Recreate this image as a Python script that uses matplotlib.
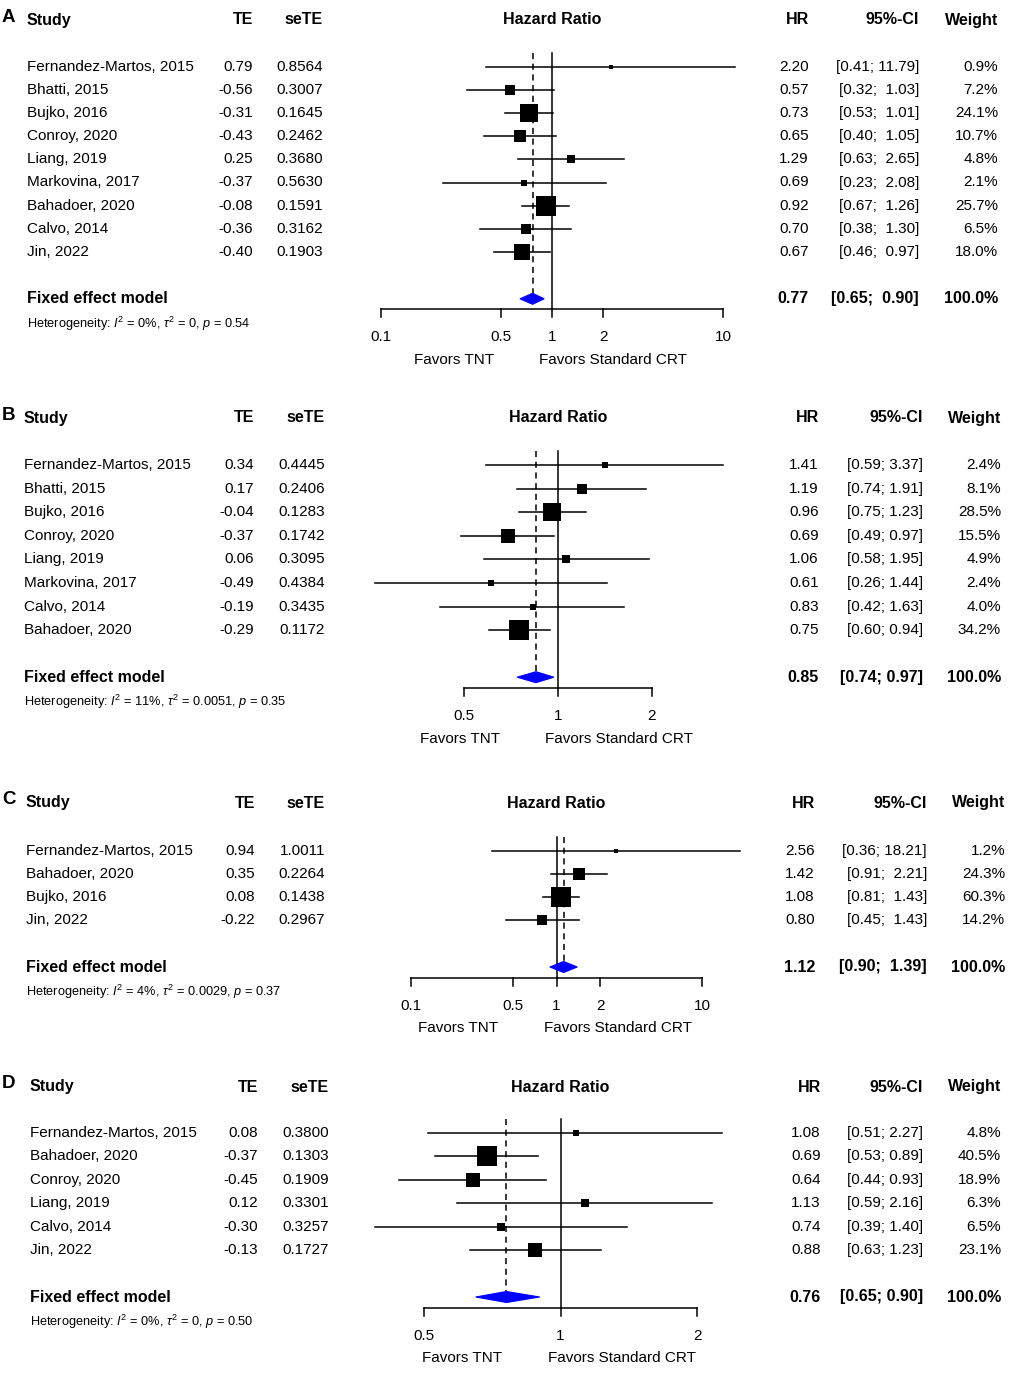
import numpy as np
import matplotlib
matplotlib.use("Agg")
import matplotlib.pyplot as plt
from matplotlib.patches import Polygon

plt.rcParams["font.family"] = ["Liberation Sans", "DejaVu Sans"]
plt.rcParams["mathtext.fontset"] = "custom"
plt.rcParams["mathtext.rm"] = "Liberation Sans"
plt.rcParams["mathtext.it"] = "Liberation Sans:italic"

W, H = 1010, 1377

# ---- data, panel A ----
a_study = ["Fernandez-Martos, 2015", "Bhatti, 2015", "Bujko, 2016", "Conroy, 2020",
           "Liang, 2019", "Markovina, 2017", "Bahadoer, 2020", "Calvo, 2014", "Jin, 2022"]
a_te = [0.79, -0.56, -0.31, -0.43, 0.25, -0.37, -0.08, -0.36, -0.40]
a_se = [0.8564, 0.3007, 0.1645, 0.2462, 0.3680, 0.5630, 0.1591, 0.3162, 0.1903]
a_hr = [2.20, 0.57, 0.73, 0.65, 1.29, 0.69, 0.92, 0.70, 0.67]
a_lo = [0.41, 0.32, 0.53, 0.40, 0.63, 0.23, 0.67, 0.38, 0.46]
a_up = [11.79, 1.03, 1.01, 1.05, 2.65, 2.08, 1.26, 1.30, 0.97]
a_w = [0.9, 7.2, 24.1, 10.7, 4.8, 2.1, 25.7, 6.5, 18.0]
a_pool = [0.77, 0.65, 0.90]
a_het = r"Heterogeneity: $I^2$ = 0%, $\tau^2$ = 0, $p$ = 0.54"

# ---- data, panel B ----
b_study = ["Fernandez-Martos, 2015", "Bhatti, 2015", "Bujko, 2016", "Conroy, 2020",
           "Liang, 2019", "Markovina, 2017", "Calvo, 2014", "Bahadoer, 2020"]
b_te = [0.34, 0.17, -0.04, -0.37, 0.06, -0.49, -0.19, -0.29]
b_se = [0.4445, 0.2406, 0.1283, 0.1742, 0.3095, 0.4384, 0.3435, 0.1172]
b_hr = [1.41, 1.19, 0.96, 0.69, 1.06, 0.61, 0.83, 0.75]
b_lo = [0.59, 0.74, 0.75, 0.49, 0.58, 0.26, 0.42, 0.60]
b_up = [3.37, 1.91, 1.23, 0.97, 1.95, 1.44, 1.63, 0.94]
b_w = [2.4, 8.1, 28.5, 15.5, 4.9, 2.4, 4.0, 34.2]
b_pool = [0.85, 0.74, 0.97]
b_het = r"Heterogeneity: $I^2$ = 11%, $\tau^2$ = 0.0051, $p$ = 0.35"

# ---- data, panel C ----
c_study = ["Fernandez-Martos, 2015", "Bahadoer, 2020", "Bujko, 2016", "Jin, 2022"]
c_te = [0.94, 0.35, 0.08, -0.22]
c_se = [1.0011, 0.2264, 0.1438, 0.2967]
c_hr = [2.56, 1.42, 1.08, 0.80]
c_lo = [0.36, 0.91, 0.81, 0.45]
c_up = [18.21, 2.21, 1.43, 1.43]
c_w = [1.2, 24.3, 60.3, 14.2]
c_pool = [1.12, 0.90, 1.39]
c_het = r"Heterogeneity: $I^2$ = 4%, $\tau^2$ = 0.0029, $p$ = 0.37"

# ---- data, panel D ----
d_study = ["Fernandez-Martos, 2015", "Bahadoer, 2020", "Conroy, 2020", "Liang, 2019",
           "Calvo, 2014", "Jin, 2022"]
d_te = [0.08, -0.37, -0.45, 0.12, -0.30, -0.13]
d_se = [0.3800, 0.1303, 0.1909, 0.3301, 0.3257, 0.1727]
d_hr = [1.08, 0.69, 0.64, 1.13, 0.74, 0.88]
d_lo = [0.51, 0.53, 0.44, 0.59, 0.39, 0.63]
d_up = [2.27, 0.89, 0.93, 2.16, 1.40, 1.23]
d_w = [4.8, 40.5, 18.9, 6.3, 6.5, 23.1]
d_pool = [0.76, 0.65, 0.90]
d_het = r"Heterogeneity: $I^2$ = 0%, $\tau^2$ = 0, $p$ = 0.50"

wide_ticks = [0.1, 0.5, 1, 2, 10]
narrow_ticks = [0.5, 1, 2]

panels = [
    dict(tag="A", study=a_study, te=a_te, se=a_se, hr=a_hr, lo=a_lo, up=a_up, w=a_w,
         pool=a_pool, het=a_het, ticks=wide_ticks, px=(381, 723),
         head=20, row0=67, dy=23.1, cols=(27, 253, 323, 809, 919, 998)),
    dict(tag="B", study=b_study, te=b_te, se=b_se, hr=b_hr, lo=b_lo, up=b_up, w=b_w,
         pool=b_pool, het=b_het, ticks=narrow_ticks, px=(464, 652),
         head=418, row0=465, dy=23.6, cols=(24, 254, 325, 819, 923, 1001)),
    dict(tag="C", study=c_study, te=c_te, se=c_se, hr=c_hr, lo=c_lo, up=c_up, w=c_w,
         pool=c_pool, het=c_het, ticks=wide_ticks, px=(411, 702),
         head=803, row0=851, dy=23.0, cols=(26, 255, 325, 815, 927, 1005)),
    dict(tag="D", study=d_study, te=d_te, se=d_se, hr=d_hr, lo=d_lo, up=d_up, w=d_w,
         pool=d_pool, het=d_het, ticks=narrow_ticks, px=(424, 697),
         head=1087, row0=1133, dy=23.4, cols=(30, 258, 329, 821, 923, 1001)),
]

fig = plt.figure(figsize=(W / 100, H / 100), dpi=100)

# overlay in pixel coordinates for all the text columns
tx = fig.add_axes([0, 0, 1, 1])
tx.set_xlim(0, W)
tx.set_ylim(H, 0)
tx.axis("off")

FS = 11
FSB = 11.5


def ci_text(lo, up, width):
    # R pads the upper limit with plain spaces
    s_up = f"{up:.2f}"
    pad = " " * (width - len(s_up))
    return f"[{lo:.2f}; {pad}{s_up}]"


for p in panels:
    n = len(p["study"])
    ys = [p["row0"] + i * p["dy"] for i in range(n)]
    y_fix = ys[-1] + 47
    y_axis = y_fix + 10.5
    study_x, te_x, se_x, hr_x, ci_x, w_x = p["cols"]
    t0, t1 = p["ticks"][0], p["ticks"][-1]
    x0, x1 = p["px"]

    ax = fig.add_axes([x0 / W, 0, (x1 - x0) / W, 1])
    ax.set_xscale("log")
    ax.set_xlim(t0, t1)
    ax.set_ylim(H, 0)
    ax.axis("off")

    # panel letter and headers
    tx.text(2, p["head"] - 3, p["tag"], fontsize=13.5, fontweight="bold", va="center", ha="left")
    tx.text(study_x, p["head"], "Study", fontsize=FSB, fontweight="bold", va="center", ha="left")
    tx.text(te_x, p["head"], "TE", fontsize=FSB, fontweight="bold", va="center", ha="right")
    tx.text(se_x, p["head"], "seTE", fontsize=FSB, fontweight="bold", va="center", ha="right")
    ax.text(1, p["head"], "Hazard Ratio", fontsize=FSB, fontweight="bold", va="center", ha="center")
    tx.text(hr_x, p["head"], "HR", fontsize=FSB, fontweight="bold", va="center", ha="right")
    tx.text(ci_x, p["head"], "95%-CI", fontsize=FSB, fontweight="bold", va="center", ha="right")
    tx.text(w_x, p["head"], "Weight", fontsize=FSB, fontweight="bold", va="center", ha="right")

    width = max(len(f"{u:.2f}") for u in p["up"])
    wmax = max(p["w"])
    for i in range(n):
        y = ys[i]
        tx.text(study_x, y, p["study"][i], fontsize=FS, va="center", ha="left")
        tx.text(te_x, y, f"{p['te'][i]:.2f}", fontsize=FS, va="center", ha="right")
        tx.text(se_x, y, f"{p['se'][i]:.4f}", fontsize=FS, va="center", ha="right")
        tx.text(hr_x, y, f"{p['hr'][i]:.2f}", fontsize=FS, va="center", ha="right")
        tx.text(ci_x, y, ci_text(p["lo"][i], p["up"][i], width), fontsize=FS, va="center", ha="right")
        tx.text(w_x, y, f"{p['w'][i]:.1f}%", fontsize=FS, va="center", ha="right")

        ax.plot([p["lo"][i], p["up"][i]], [y, y], color="black", lw=1.1, clip_on=False)
        side = max(4.0, 19.5 * np.sqrt(p["w"][i] / wmax)) * 0.72
        ax.scatter([p["hr"][i]], [y], marker="s", s=side ** 2, color="black",
                   linewidths=0, zorder=3, clip_on=False)

    # pooled row
    est, plo, pup = p["pool"]
    tx.text(study_x, y_fix, "Fixed effect model", fontsize=FSB, fontweight="bold", va="center", ha="left")
    tx.text(hr_x, y_fix, f"{est:.2f}", fontsize=FSB, fontweight="bold", va="center", ha="right")
    pool_ci = ci_text(plo, pup, width)
    tx.text(ci_x, y_fix, pool_ci, fontsize=FSB, fontweight="bold", va="center", ha="right")
    tx.text(w_x, y_fix, "100.0%", fontsize=FSB, fontweight="bold", va="center", ha="right")
    tx.text(study_x, y_fix + 25, p["het"], fontsize=9.2, va="center", ha="left")

    hh = 5.5
    ax.add_patch(Polygon([(plo, y_fix), (est, y_fix - hh), (pup, y_fix), (est, y_fix + hh)],
                         closed=True, facecolor="#0000ff", edgecolor="#0000ff", lw=0.8,
                         zorder=4, clip_on=False))

    y_top = p["row0"] - 14
    ax.plot([1, 1], [y_top, y_axis], color="black", lw=1.1, clip_on=False)
    ax.plot([est, est], [y_top, y_fix - hh], color="black", lw=1.1,
            dashes=(4, 3), clip_on=False)

    # x axis
    ax.plot([t0, t1], [y_axis, y_axis], color="black", lw=1.1, clip_on=False)
    for t in p["ticks"]:
        ax.plot([t, t], [y_axis, y_axis + 8], color="black", lw=1.1, clip_on=False)
        ax.text(t, y_axis + 28, f"{t:g}", fontsize=FS, va="center", ha="center")

    ref_px = x0 + (x1 - x0) * (0 - np.log10(t0)) / (np.log10(t1) - np.log10(t0))
    tx.text(ref_px - 58, y_axis + 51, "Favors TNT", fontsize=FS, va="center", ha="right")
    tx.text(ref_px - 13, y_axis + 51, "Favors Standard CRT", fontsize=FS, va="center", ha="left")

fig.savefig("out.png", dpi=100, facecolor="white")
